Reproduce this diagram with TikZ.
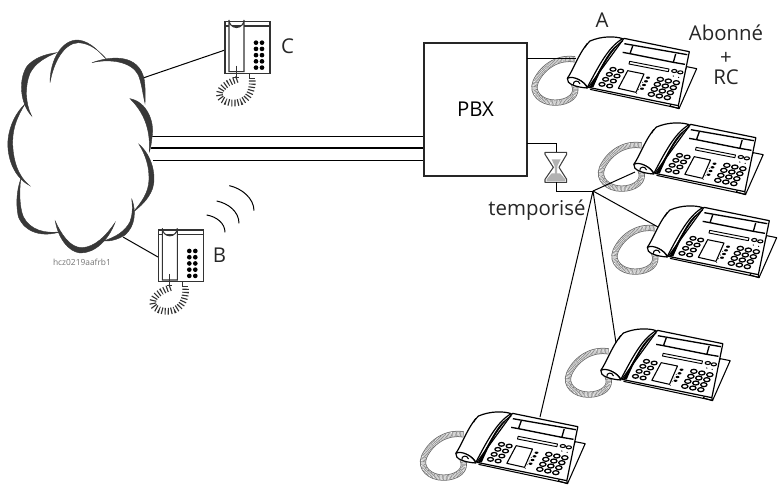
\documentclass[tikz,border=0pt]{standalone}
\usepackage{fontspec}
\setmainfont{Open Sans}
\usetikzlibrary{calc}
\tikzset{
  wire/.style={line width=0.75pt,black},
  trunk/.style={line width=0.75pt,black},
  lbl/.style={font=\fontsize{15.3}{18}\selectfont,text=black!85,inner sep=0pt},
  cloudmark/.style={fill=black!78,draw=black!78,line width=0.3pt},
  pbxbox/.style={draw=black!85,line width=1.3pt,fill=white,minimum width=77pt,minimum height=100pt,inner sep=0pt},
  deskphone/.pic={
    \begin{scope}[scale=1/3,line join=round]
      % cord
      \path[draw=black!60,line width=4.6pt] (135,148) .. controls (90,140) and (40,165) .. (17,215) .. controls (2,250) and (35,278) .. (75,278) .. controls (115,278) and (148,255) .. (132,222);
      \path[draw=white,line width=3.4pt] (135,148) .. controls (90,140) and (40,165) .. (17,215) .. controls (2,250) and (35,278) .. (75,278) .. controls (115,278) and (148,255) .. (132,222);
      \path[draw=black!50,line width=3.4pt,dash pattern=on 0.4pt off 0.6pt] (135,148) .. controls (90,140) and (40,165) .. (17,215) .. controls (2,250) and (35,278) .. (75,278) .. controls (115,278) and (148,255) .. (132,222);
      % wedge
      \draw[fill=white,line width=0.8pt] (470,170) -- (500,176) -- (447,296) -- (420,288) -- cycle;
      % body
      \draw[fill=white,line width=0.9pt] (282,85) -- (478,125) -- (445,287) -- (175,232) -- cycle;
      \draw[line width=0.8pt] (180,238) -- (447,295) -- (445,287);
      % display bracket
      \draw[line width=1pt] (283,101) -- (472,134);
      \draw[line width=1pt] (278,127) -- (300,131) -- (430,157) -- (465,163);
      \draw[line width=1pt] (308,108) -- (300,131) (437,132) -- (430,157);
      % slot
      \draw[fill=white,line width=0.7pt] (299,154) -- (417,177) -- (415,185) -- (297,162) -- cycle;
      \foreach \p in {(433,183),(451,187)} \draw[fill=white,line width=0.8pt] \p ellipse (8 and 4.5);
      \foreach \p in {(430,198),(446,202)} \fill \p circle (2);
      % screen
      \draw[fill=white,line width=0.8pt] (293,182) -- (342,192) -- (318,247) -- (265,235) -- cycle;
      % side keys
      \foreach \i in {0,1,2,3} {
        \fill ($(354,203)+\i*(-6,11)$) ellipse (6 and 3.5);
        \fill ($(338,217)+\i*(-6,11)$) circle (1.5);
      }
      % left keypad
      \foreach \r in {0,1,2,3} \foreach \c in {0,1}
        \draw[fill=white,line width=0.95pt] ($(249,178)+\r*(-11,15)+\c*(23,5)$) ellipse (9 and 5.5);
      % right keypad
      \foreach \r in {0,1,2,3} \foreach \c in {0,1,2}
        \draw[fill=white,line width=0.95pt] ($(391,208)+\r*(-9,15)+\c*(24,5)$) ellipse (9.5 and 6);
      % handset
      \draw[fill=white,line width=0.9pt] (112,205) .. controls (130,180) and (150,120) .. (180,93) .. controls (215,78) and (255,78) .. (278,86) .. controls (235,110) and (205,170) .. (172,232) .. controls (160,212) and (135,200) .. (112,205) -- cycle;
      \draw[line width=0.9pt] (278,92) .. controls (245,115) and (215,170) .. (182,234);
      \fill (262,103) .. controls (232,125) and (210,180) .. (178,232) -- (190,232) .. controls (212,180) and (238,130) .. (262,103) -- cycle;
      \draw[fill=white,line width=0.9pt] (112,205) .. controls (108,222) and (140,232) .. (172,234) .. controls (165,215) and (130,195) .. (112,205) -- cycle;
      \draw[line width=0.8pt] (130,224) .. controls (128,212) and (146,208) .. (150,222);
      \draw[line width=0.8pt] (165,112) -- (172,100);
    \end{scope}
  },
  basephone/.pic={
    \begin{scope}[scale=1/3]
      \draw[black!80,line width=0.8pt,fill=white] (675,65) rectangle (810,220);
      \draw[black!80,line width=0.8pt] (675,78) -- (810,78);
      \foreach \r in {0,1,2,3,4} \foreach \c in {0,1} \fill ($(768,128)+\r*(0,18.7)+\c*(18,0)$) circle (7);
      \draw[black!80,line width=0.8pt,fill=white] (687,215) -- (687,60) arc (180:0:22.5) -- (732,215) -- cycle;
      \draw[black!80,line width=0.8pt] (710,197) -- (710,235) (700,232) -- (716,232);
      \draw[black!80,line width=0.8pt] (748,222) -- (748,235) -- (764,235);
      \draw[black!80,line width=5pt,dash pattern=on 0.85pt off 1.5pt] (712,238) .. controls (670,250) and (645,280) .. (665,298) .. controls (695,320) and (760,315) .. (757,238);
    \end{scope}
  }
}
\begin{document}
\begin{tikzpicture}[x=0.75pt,y=-0.75pt]
\useasboundingbox (0,0) rectangle (778,487);

% anchors
\coordinate (cloudC) at (143,78);
\coordinate (cloudB) at (123,237);
\coordinate (phC) at (225,50);
\coordinate (phB) at (158,257);
\coordinate (t1a) at (150,136); \coordinate (t1b) at (424,136);
\coordinate (t2a) at (148,148); \coordinate (t2b) at (424,148);
\coordinate (t3a) at (148,160); \coordinate (t3b) at (424,160);
\coordinate (pbxA) at (527,58);
\coordinate (phA) at (576,58);
\coordinate (pbxT) at (527,143);
\coordinate (hgTop) at (556,152);
\coordinate (hgBot) at (556,182);
\coordinate (junction) at (593,191);
\coordinate (ph2) at (635,172);
\coordinate (ph3) at (658,227);
\coordinate (ph4) at (616,343);
\coordinate (ph5) at (540,417);

% wires behind
\draw[wire] (cloudC) -- (phC);
\draw[wire] (cloudB) -- (phB);
\draw[trunk] (t1a) -- (t1b);
\draw[trunk,line width=1.3pt] (t2a) -- (t2b);
\draw[trunk] (t3a) -- (t3b);

% cloud
\begin{scope}[scale=1/3]
  \path[fill=white] (150,245) .. controls (155,180) and (190,125) .. (235,122) .. controls (280,135) and (300,165) .. (320,180) .. controls (380,170) and (430,200) .. (435,300) .. controls (460,350) and (460,410) .. (452,450) .. controls (470,510) and (460,570) .. (400,635) .. controls (405,690) and (360,720) .. (310,722) .. controls (280,760) and (210,770) .. (175,695) .. controls (130,705) and (50,700) .. (60,540) .. controls (20,480) and (10,390) .. (75,312) .. controls (50,260) and (70,180) .. (170,160) -- cycle;
  \fill[cloudmark] (150,248) .. controls (150,180) and (185,118) .. (235,120) .. controls (275,125) and (300,160) .. (322,180) .. controls (295,150) and (270,130) .. (235,128) .. controls (190,130) and (160,190) .. (150,248) -- cycle;
  \fill[cloudmark] (276,188) .. controls (340,165) and (415,165) .. (432,235) .. controls (436,255) and (436,285) .. (435,310) .. controls (428,280) and (425,250) .. (415,225) .. controls (395,185) and (330,175) .. (276,188) -- cycle;
  \fill[cloudmark] (390,296) .. controls (440,305) and (465,365) .. (456,412) .. controls (454,430) and (452,445) .. (448,455) .. controls (450,410) and (445,350) .. (390,296) -- cycle;
  \fill[cloudmark] (417,433) .. controls (455,465) and (470,525) .. (458,565) .. controls (445,600) and (420,620) .. (400,636) .. controls (425,605) and (445,580) .. (447,540) .. controls (448,500) and (437,465) .. (417,433) -- cycle;
  \fill[cloudmark] (395,596) .. controls (410,635) and (405,680) .. (375,705) .. controls (355,718) and (330,725) .. (310,723) .. controls (345,712) and (375,695) .. (390,665) .. controls (398,645) and (398,620) .. (395,596) -- cycle;
  \fill[cloudmark] (345,668) .. controls (325,720) and (285,760) .. (240,759) .. controls (205,755) and (175,715) .. (166,664) .. controls (185,705) and (210,742) .. (245,743) .. controls (285,742) and (320,705) .. (345,668) -- cycle;
  \fill[cloudmark] (182,695) .. controls (130,712) and (75,700) .. (55,650) .. controls (47,615) and (50,570) .. (62,538) .. controls (58,575) and (58,620) .. (70,650) .. controls (90,690) and (135,702) .. (182,695) -- cycle;
  \fill[cloudmark] (88,556) .. controls (40,530) and (20,470) .. (24,420) .. controls (28,375) and (50,335) .. (75,312) .. controls (55,345) and (38,380) .. (38,425) .. controls (38,480) and (55,530) .. (88,556) -- cycle;
  \fill[cloudmark] (95,348) .. controls (60,310) and (55,240) .. (80,200) .. controls (100,175) and (135,162) .. (170,158) .. controls (135,172) and (105,190) .. (90,220) .. controls (75,255) and (75,310) .. (95,348) -- cycle;
\end{scope}

% basic phones
\pic at (0,0) {basephone};
\pic at (-66.7,208.3) {basephone};

% radio waves
\begin{scope}[scale=1/3]
  \draw[wire] (620,645) .. controls (650,650) and (675,670) .. (675,697);
  \draw[wire] (650,603) .. controls (685,610) and (717,635) .. (717,670);
  \draw[wire] (688,557) .. controls (725,565) and (762,595) .. (762,632);
\end{scope}

% desk phones
\pic at (530,10) {deskphone};
\pic at (596.5,96) {deskphone};
\pic at (610,179) {deskphone};
\pic at (563.5,302) {deskphone};
\pic at (418.5,385) {deskphone};

% PBX
\node[pbxbox] (pbx) at (475.5,109.5) {\fontsize{15.3}{18}\selectfont PBX};

% hourglass
\begin{scope}[shift={(410,120)},scale=1/3]
  \draw[fill=white,draw=black!75,line width=0.8pt,line join=round] (405,97) -- (470,97) -- (470,103) -- (447,142) -- (470,178) -- (470,187) -- (405,187) -- (405,178) -- (430,142) -- (405,103) -- cycle;
  \fill[black!30] (410,184) -- (466,184) -- (466,178) -- (450,160) -- (425,160) -- (410,178) -- cycle;
  \fill[black!30] (425,118) -- (452,118) -- (442,138) -- (441,165) -- (435,165) -- (434,138) -- cycle;
\end{scope}

% delayed line
\draw[wire] (pbxT) -| (hgTop);
\draw[wire] (hgBot) |- (junction);
\draw[wire] (pbxA) -- (phA);
\draw[wire] (junction) -- (ph2);
\draw[wire] (junction) -- (ph3);
\draw[wire] (junction) -- (ph4);
\draw[wire] (junction) -- (ph5);

% labels
\node[lbl] (labC) at (287.5,46) {C};
\node[lbl] (labB) at (219.5,255) {B};
\node[lbl] (labA) at (602,20) {A};
\node[lbl] (labAb) at (726,33) {Abonné};
\node[lbl] (labPl) at (726,58) {+};
\node[lbl] (labRC) at (726,77) {RC};
\node[lbl] (labT) at (537,210) {temporisé};
\node[font=\fontsize{6.3}{7}\selectfont,text=black!55,inner sep=0pt] (ref) at (82,262.5) {hcz0219aafrb1};
\end{tikzpicture}
\end{document}
